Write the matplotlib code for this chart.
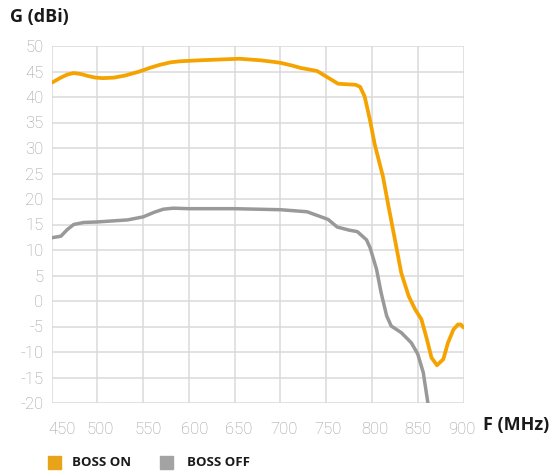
import numpy as np
import matplotlib
matplotlib.use("Agg")
import matplotlib.pyplot as plt
import matplotlib.patches as patches
from matplotlib.transforms import ScaledTranslation

# BOSS ON gain curve
freq_on = [450, 460, 467, 474, 482, 490, 498, 506, 518, 530, 546, 557, 568, 580, 590,
           612, 655, 678, 692, 700, 712, 722, 740, 751, 763, 772, 782, 787, 792,
           798, 803, 809, 812, 818, 825, 832, 840, 847, 854, 860, 865, 871, 878,
           883, 889, 894, 897, 900]
gain_on = [42.8, 43.8, 44.4, 44.7, 44.5, 44.1, 43.8, 43.7, 43.8, 44.2, 45.0, 45.7, 46.3, 46.8, 47.0,
           47.2, 47.5, 47.2, 46.9, 46.7, 46.2, 45.7, 45.1, 43.9, 42.6, 42.5, 42.4, 42.0, 40.1,
           35.3, 30.7, 26.5, 24.4, 18.6, 12.1, 5.5, 1.0, -1.6, -3.6, -7.5, -11.1, -12.6, -11.4,
           -8.2, -5.6, -4.6, -4.6, -5.2]

# BOSS OFF gain curve
freq_off = [450, 460, 467, 474, 485, 500, 533, 550, 562, 572, 583, 600, 650, 700,
            729, 752, 762, 775, 784, 794, 798, 805, 810, 816, 821, 832, 843, 850,
            856, 861, 863]
gain_off = [12.4, 12.7, 14.0, 15.0, 15.4, 15.5, 15.9, 16.5, 17.4, 18.0, 18.2, 18.1, 18.1, 17.9,
            17.5, 16.0, 14.5, 13.9, 13.6, 12.0, 10.4, 6.2, 1.6, -2.9, -4.9, -6.2, -8.2, -10.4,
            -14.0, -19.9, -21.0]

x_ticks = [450, 500, 550, 600, 650, 700, 750, 800, 850, 900]
y_ticks = [-20, -15, -10, -5, 0, 5, 10, 15, 20, 25, 30, 35, 40, 45, 50]

ORANGE = '#f5a300'
GRAY = '#999999'
GRID = '#dadada'
TICK = '#9a9a9a'

fig = plt.figure(figsize=(5.55, 4.75), dpi=100)
ax = fig.add_axes([51.7 / 555, 1 - 403 / 475, (463.5 - 51.7) / 555, (403 - 46) / 475])

ax.plot(freq_off, gain_off, color=GRAY, lw=2.5, solid_capstyle='round', zorder=3)
ax.plot(freq_on, gain_on, color=ORANGE, lw=2.7, solid_capstyle='round', zorder=4)

ax.set_xlim(450, 900)
ax.set_ylim(-20, 50)
ax.set_xticks(x_ticks)
ax.set_yticks(y_ticks)
ax.set_yticklabels([str(v) for v in y_ticks])
ax.grid(True, color=GRID, lw=1.1, zorder=0)
for s in ax.spines.values():
    s.set_visible(False)
ax.tick_params(length=0, labelcolor=TICK, labelsize=12)
ax.tick_params(axis='x', pad=14)
ax.tick_params(axis='y', pad=6)
for lab in ax.get_xticklabels() + ax.get_yticklabels():
    lab.set_family(['Roboto', 'DejaVu Sans'])
    lab.set_fontweight('light')

# the x labels sit a little off their gridlines in the original
x_shift = [10, 2.5, 5, 6, 4, 4, 1.5, 3, 0, -2]
for lab, dx in zip(ax.get_xticklabels(), x_shift):
    lab.set_transform(lab.get_transform() + ScaledTranslation(dx / 100, 0, fig.dpi_scale_trans))

bold = dict(family=['Open Sans', 'DejaVu Sans'], fontweight='bold', color='#1a1a1a')
fig.text(10 / 555, 1 - 17 / 475, 'G (dBi)', fontsize=13, va='center', ha='left', **bold)
fig.text(483 / 555, 1 - 425 / 475, 'F (MHz)', fontsize=13, va='center', ha='left', **bold)

# legend at the bottom
fig.patches.append(patches.Rectangle((48 / 555, 1 - 469 / 475), 12.5 / 555, 13 / 475,
                                     transform=fig.transFigure, color='#e8a419'))
fig.patches.append(patches.Rectangle((160 / 555, 1 - 469 / 475), 12.5 / 555, 13 / 475,
                                     transform=fig.transFigure, color='#a3a3a3'))
fig.text(72 / 555, 1 - 462.5 / 475, 'BOSS ON', fontsize=9.5, va='center', ha='left', **bold)
fig.text(187 / 555, 1 - 462.5 / 475, 'BOSS OFF', fontsize=9.5, va='center', ha='left', **bold)

fig.savefig('out.png', dpi=100)
